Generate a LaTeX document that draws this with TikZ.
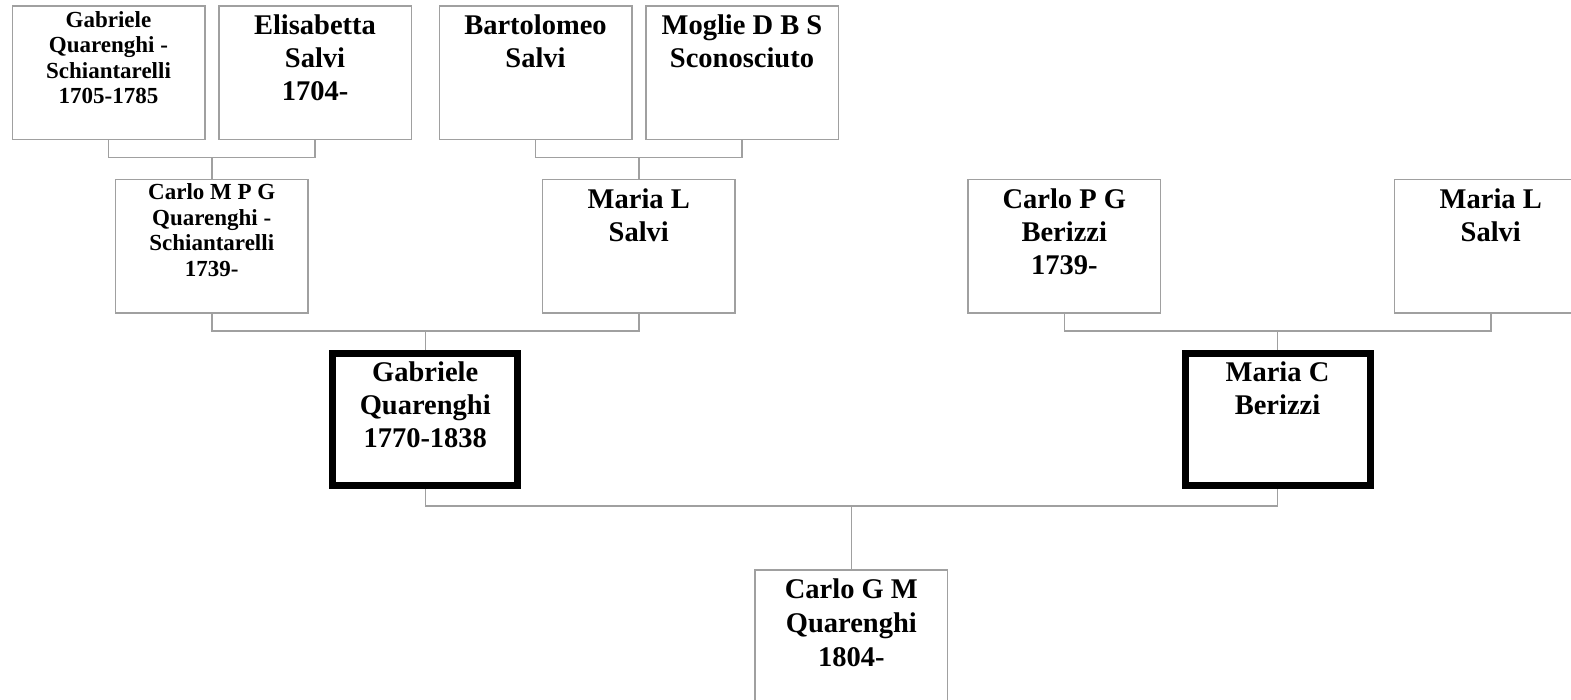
\documentclass[tikz,border=0pt]{standalone}
\usepackage{fontspec}
\setmainfont{Liberation Serif}
\usetikzlibrary{positioning,calc,backgrounds}

\definecolor{boxgray}{RGB}{160,160,160}
\newcommand{\card}[2]{\parbox[c][132pt][t]{185pt}{\centering\rule{0pt}{#1}#2}}

\tikzset{
  person/.style={draw=boxgray, line width=1.5pt, fill=white, inner sep=0pt, outer sep=0pt,
    minimum width=192.5pt, minimum height=133.5pt, font=\bfseries\fontsize{28.5}{33}\selectfont},
  smallname/.style={font=\bfseries\fontsize{23}{25.5}\selectfont},
  focus/.style={person, draw=black, line width=7pt, minimum width=0pt, minimum height=0pt},
  link/.style={draw=boxgray, line width=1.5pt},
}

\begin{document}
\begin{tikzpicture}[x=1pt, y=1pt]

  \useasboundingbox (0,0) rectangle (1571,-700);

  % Define nodes
  \node[person, smallname] at (108.5,-73) (gabrieleqs) {\card{20.5pt}{Gabriele\\Quarenghi -\\Schiantarelli\\1705-1785}};
  \node[person, right=14pt of gabrieleqs] (elisabetta) {\card{27.5pt}{Elisabetta\\Salvi\\1704-}};
  \node[person, right=28pt of elisabetta] (bartolomeo) {\card{27.5pt}{Bartolomeo\\Salvi}};
  \node[person, right=14pt of bartolomeo] (moglie) {\card{27.5pt}{Moglie D B S\\Sconosciuto}};

  \coordinate (gen1a) at ($(gabrieleqs.south)!.5!(elisabetta.south)+(0,-18)$);
  \coordinate (gen1b) at ($(bartolomeo.south)!.5!(moglie.south)+(0,-18)$);

  \node[person, smallname, below=22pt of gen1a] (carlomp) {\card{19.5pt}{Carlo M P G\\Quarenghi -\\Schiantarelli\\1739-}};
  \node[person, below=22pt of gen1b] (marials) {\card{28.5pt}{Maria L\\Salvi}};
  \node[person, right=233pt of marials] (carlopg) {\card{28.5pt}{Carlo P G\\Berizzi\\1739-}};
  \node[person, right=234pt of carlopg] (marialsb) {\card{28.5pt}{Maria L\\Salvi}};

  \coordinate (gen2a) at ($(carlomp.south)!.5!(marials.south)+(0,-18)$);
  \coordinate (gen2b) at ($(carlopg.south)!.5!(marialsb.south)+(0,-18)$);

  \node[focus, below=22pt of gen2a] (gabriele) {\card{28.5pt}{Gabriele\\Quarenghi\\1770-1838}};
  \node[focus, below=22pt of gen2b] (mariac) {\card{28.5pt}{Maria C\\Berizzi}};

  \coordinate (gen3) at ($(gabriele.south)!.5!(mariac.south)+(0,-20.5)$);

  \node[person, below=64pt of gen3, font=\bfseries\fontsize{28.5}{34}\selectfont] (carlogm) {\card{27.5pt}{Carlo G M\\Quarenghi\\1804-}};

  % Connect the nodes
  \begin{scope}[on background layer]
    \draw[link] (gabrieleqs.south) |- (gen1a) -| (elisabetta.south);
    \draw[link] (gen1a) -- (carlomp.north);
    \draw[link] (bartolomeo.south) |- (gen1b) -| (moglie.south);
    \draw[link] (gen1b) -- (marials.north);
    \draw[link] (carlomp.south) |- (gen2a) -| (marials.south);
    \draw[link] (gen2a) -- (gabriele.north);
    \draw[link] (carlopg.south) |- (gen2b) -| (marialsb.south);
    \draw[link] (gen2b) -- (mariac.north);
    \draw[link] (gabriele.south) |- (gen3) -| (mariac.south);
    \draw[link] (gen3) -- (carlogm.north);
  \end{scope}

\end{tikzpicture}
\end{document}
